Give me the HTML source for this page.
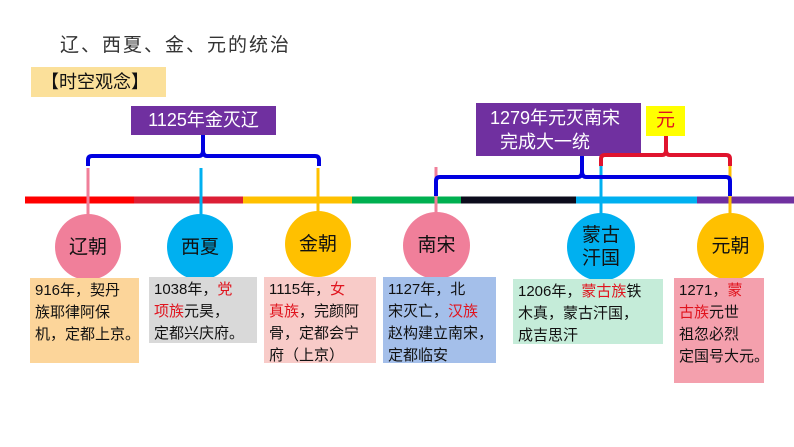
<!DOCTYPE html>
<html><head><meta charset="utf-8"><style>
body{margin:0;width:794px;height:447px;background:#fff;position:relative;overflow:hidden;font-family:"Liberation Sans","Noto Sans CJK SC",sans-serif;}
div{position:absolute;box-sizing:border-box}
.c{border-radius:50%;display:flex;align-items:center;justify-content:center;text-align:center;font-size:19px;color:#111;line-height:23px}
.b{font-size:15px;line-height:22px;color:#111;padding:2px 0 0 5px;white-space:nowrap}
.r{color:#e0141e}
.p{background:#7030a0;color:#fff;font-size:18px;line-height:24px}
</style></head><body>
<div style="left:60px;top:30px;font-size:19px;color:#333;letter-spacing:2px">辽、西夏、金、元的统治</div>
<div style="left:31px;top:67px;width:135px;height:30px;background:#fbe09a;font-size:18px;line-height:30px;padding-left:10px;color:#111">【时空观念】</div>
<div class="p" style="left:131px;top:106px;width:145px;height:29px;text-align:center;line-height:29px">1125年金灭辽</div>
<div class="p" style="left:476px;top:103px;width:165px;height:53px;padding:3px 0 0 14px">1279年元灭南宋<br>&nbsp;&nbsp;完成大一统</div>
<div style="left:646px;top:106px;width:39px;height:30px;background:#ffff00;color:#e0141e;font-size:19px;line-height:30px;text-align:center">元</div>
<svg style="position:absolute;left:0;top:0" width="794" height="447">
<g stroke-width="7">
<line x1="25" y1="200" x2="134" y2="200" stroke="#f00"/>
<line x1="134" y1="200" x2="243" y2="200" stroke="#dc1e35"/>
<line x1="243" y1="200" x2="352" y2="200" stroke="#ffc000"/>
<line x1="352" y1="200" x2="461" y2="200" stroke="#00b050"/>
<line x1="461" y1="200" x2="576" y2="200" stroke="#0c0c1c"/>
<line x1="576" y1="200" x2="697" y2="200" stroke="#00b0f0"/>
<line x1="697" y1="200" x2="794" y2="200" stroke="#7030a0"/>
</g>
<g stroke-width="3" fill="none">
<line x1="88" y1="168" x2="88" y2="215" stroke="#f07f9a"/>
<line x1="201" y1="168" x2="201" y2="215" stroke="#00b0f0"/>
<line x1="318" y1="168" x2="318" y2="215" stroke="#ffc000"/>
<line x1="436" y1="167" x2="436" y2="215" stroke="#f07f9a"/>
<line x1="601" y1="166" x2="601" y2="215" stroke="#00b0f0"/>
<line x1="730" y1="166" x2="730" y2="215" stroke="#ffc000"/>
<path d="M88 166 V160 Q88 156 92 156 H199 Q203 156 203 150 V135 M203 150 Q203 156 207 156 H315 Q319 156 319 160 V166" stroke="#0000e0" stroke-width="4"/>
<path d="M601 166 V159 Q601 155 605 155 H662 Q666 155 666 150 V136 M666 150 Q666 155 670 155 H726 Q730 155 730 159 V166" stroke="#e0142e" stroke-width="4"/>
<path d="M436 196 V181 Q436 177 440 177 H578 Q582 177 582 171 V156 M582 171 Q582 177 586 177 H726 Q730 177 730 181 V196" stroke="#0000e0" stroke-width="4"/>
</g>
</svg>
<div class="c" style="left:55px;top:214px;width:66px;height:66px;background:#f07f9a">辽朝</div>
<div class="c" style="left:167px;top:214px;width:66px;height:66px;background:#00b0f0">西夏</div>
<div class="c" style="left:285px;top:211px;width:66px;height:66px;background:#ffc000">金朝</div>
<div class="c" style="left:403px;top:212px;width:67px;height:67px;background:#f07f9a">南宋</div>
<div class="c" style="left:567px;top:213px;width:68px;height:68px;background:#00b0f0">蒙古<br>汗国</div>
<div class="c" style="left:697px;top:213px;width:67px;height:67px;background:#ffc000">元朝</div>
<div class="b" style="left:30px;top:278px;width:109px;height:85px;background:#fcd59a">916年，契丹<br>族耶律阿保<br>机，定都上京。</div>
<div class="b" style="left:149px;top:277px;width:108px;height:66px;background:#d9d9d9">1038年，<span class="r">党</span><br><span class="r">项族</span>元昊，<br>定都兴庆府。</div>
<div class="b" style="left:264px;top:277px;width:112px;height:86px;background:#f8cbc8">1115年，<span class="r">女</span><br><span class="r">真族</span>，完颜阿<br>骨，定都会宁<br>府（上京）</div>
<div class="b" style="left:383px;top:277px;width:113px;height:86px;background:#a4bfea">1127年，北<br>宋灭亡，<span class="r">汉族</span><br>赵构建立南宋，<br>定都临安</div>
<div class="b" style="left:513px;top:279px;width:150px;height:65px;background:#c5ecd9">1206年，<span class="r">蒙古族</span>铁<br>木真，蒙古汗国，<br>成吉思汗</div>
<div class="b" style="left:674px;top:278px;width:90px;height:105px;background:#f4a0ad">1271，<span class="r">蒙</span><br><span class="r">古族</span>元世<br>祖忽必烈<br>定国号大元。</div>
</body></html>
